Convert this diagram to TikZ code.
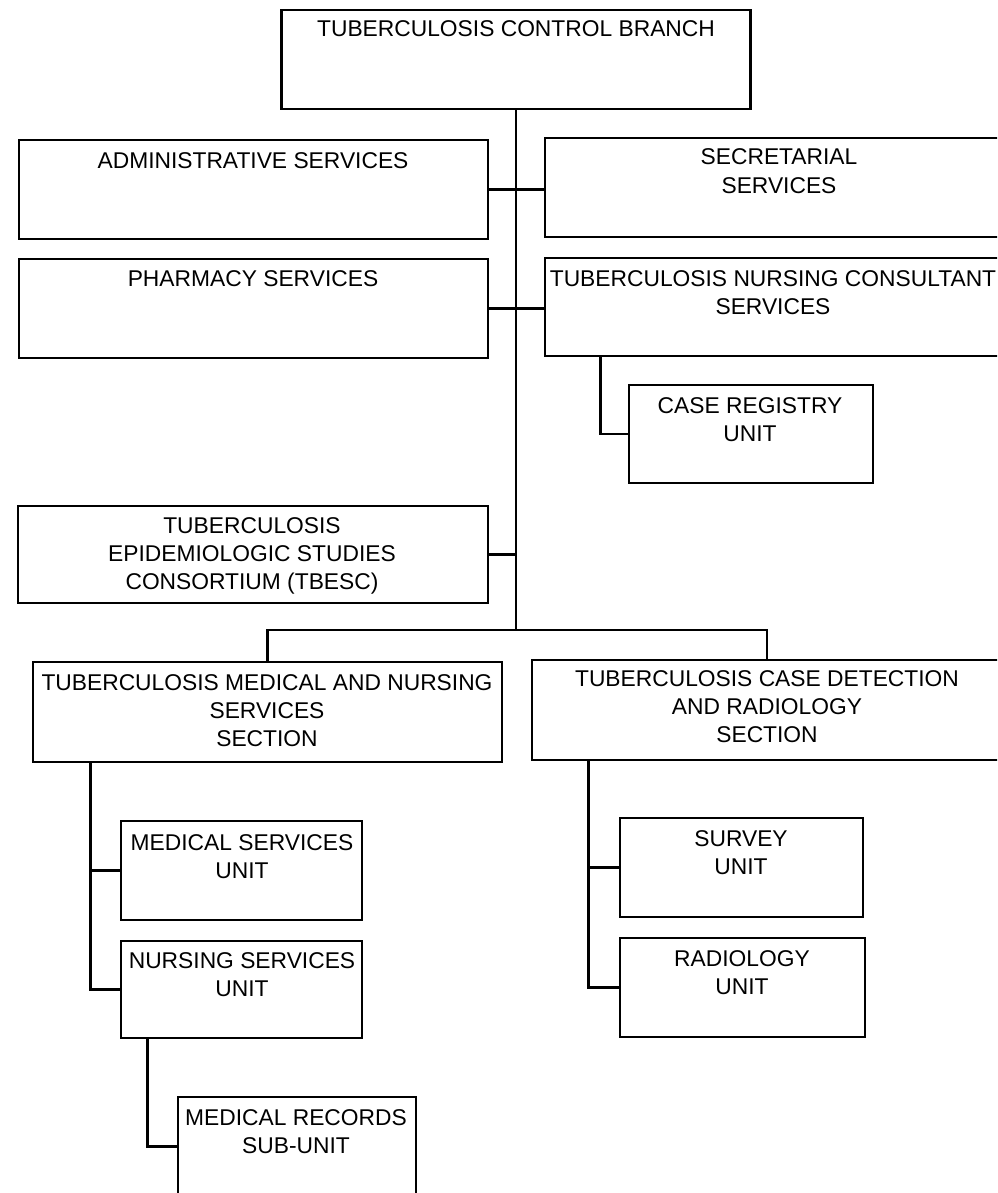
\documentclass[tikz,border=0pt]{standalone}
\usepackage{fontspec}
\setmainfont{Liberation Sans}
\begin{document}
\begin{tikzpicture}[x=1pt,y=-1pt,
  box/.style={draw=black, line width=2.8pt, rectangle, inner sep=0pt},
  lbl/.style={font=\fontsize{22.8}{28.3}\selectfont, align=center, anchor=base, inner sep=0pt},
  conn/.style={draw=black, line width=2.6pt}]
\useasboundingbox (0,0) rectangle (997,1193);
\clip (0,0) rectangle (997,1193);
% boxes
\node[box, minimum width=469, minimum height=99] (top) at (516,59.5) {};
\node[box, minimum width=469, minimum height=99] (admin) at (253.5,189.5) {};
\node[box, minimum width=468, minimum height=99] (sec) at (779,187.5) {};
\node[box, minimum width=469, minimum height=99] (pharm) at (253.5,308.5) {};
\node[box, minimum width=468, minimum height=98] (nurse) at (779,307) {};
\node[box, minimum width=244, minimum height=98] (case) at (751,434) {};
\node[box, minimum width=470, minimum height=97] (tbesc) at (253,554.5) {};
\node[box, minimum width=469, minimum height=100] (lsec) at (267.5,712) {};
\node[box, minimum width=470, minimum height=100] (rsec) at (767,710) {};
\node[box, minimum width=241, minimum height=99] (med) at (241.5,870.5) {};
\node[box, minimum width=241, minimum height=97] (nurs) at (241.5,989.5) {};
\node[box, minimum width=238, minimum height=99] (rec) at (297,1146.5) {};
\node[box, minimum width=243, minimum height=99] (survey) at (741.5,867.5) {};
\node[box, minimum width=245, minimum height=99] (radio) at (742.5,987.5) {};
% texts (anchor base = baseline of the last line)
\node[lbl] (topT) at (516,37) {TUBERCULOSIS CONTROL BRANCH};
\node[lbl] (adminT) at (253,169) {ADMINISTRATIVE SERVICES};
\node[lbl] (secT) at (779,193.3) {SECRETARIAL\\SERVICES};
\node[lbl] (pharmT) at (253,286) {PHARMACY SERVICES};
\node[lbl] (nurseT) at (773,314.3) {TUBERCULOSIS NURSING CONSULTANT\\SERVICES};
\node[lbl] (caseT) at (750,441.3) {CASE REGISTRY\\UNIT};
\node[lbl] (tbescT) at (252,589.6) {TUBERCULOSIS\\EPIDEMIOLOGIC STUDIES\\CONSORTIUM (TBESC)};
\node[lbl] (lsecT) at (267,746.6) {TUBERCULOSIS MEDICAL AND NURSING\\SERVICES\\SECTION};
\node[lbl] (rsecT) at (767,742.6) {TUBERCULOSIS CASE DETECTION\\AND RADIOLOGY\\SECTION};
\node[lbl] (medT) at (242,878.3) {MEDICAL SERVICES\\UNIT};
\node[lbl] (nursT) at (242,996.3) {NURSING SERVICES\\UNIT};
\node[lbl] (recT) at (296,1153.3) {MEDICAL RECORDS\\SUB-UNIT};
\node[lbl] (surveyT) at (741,874.3) {SURVEY\\UNIT};
\node[lbl] (radioT) at (742,994.3) {RADIOLOGY\\UNIT};
% connectors
\coordinate (j) at (516,630);
\draw[conn] (top.south) -- (j);
\draw[conn] (admin.east) -- (admin.east -| sec.west);
\draw[conn] (pharm.east) -- (pharm.east -| nurse.west);
\draw[conn] ([xshift=57pt]nurse.south west) |- (case.west);
\draw[conn] (tbesc.east) -- (tbesc.east -| j);
\draw[conn] (lsec.north) |- (j) -| (rsec.north);
\draw[conn] ([xshift=59pt]lsec.south west) |- (nurs.west);
\draw[conn] ([xshift=59pt]lsec.south west |- med.west) -- (med.west);
\draw[conn] ([xshift=28pt]nurs.south west) |- (rec.west);
\draw[conn] ([xshift=58pt]rsec.south west) |- (radio.west);
\draw[conn] ([xshift=58pt]rsec.south west |- survey.west) -- (survey.west);
\end{tikzpicture}
\end{document}
